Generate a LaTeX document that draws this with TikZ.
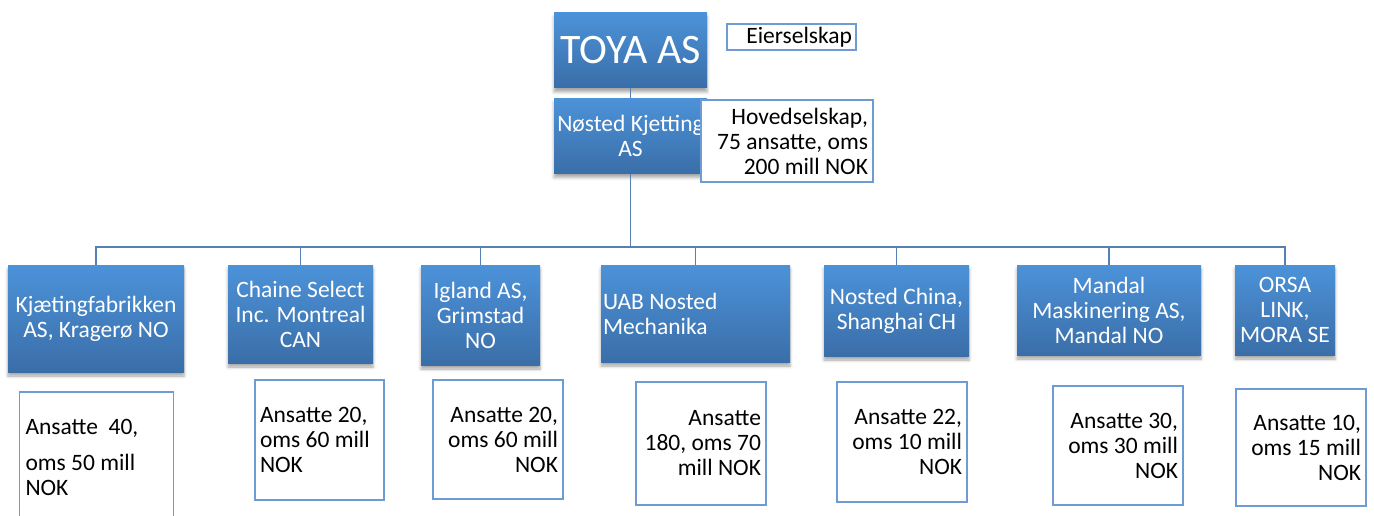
\documentclass[tikz,border=0pt]{standalone}
\usepackage{fontspec}
\setmainfont{Carlito}
\usetikzlibrary{shadows.blur}

\definecolor{boxtop}{RGB}{76,146,217}
\definecolor{boxbot}{RGB}{58,110,168}
\definecolor{linkblue}{RGB}{84,128,182}
\definecolor{infoblue}{RGB}{110,155,212}

\newcommand{\orgfont}{\fontsize{23.5}{25}\selectfont}

\begin{document}
\begin{tikzpicture}[
    x=1pt, y=-1pt,
    company/.style={rectangle, top color=boxtop, bottom color=boxbot, text=white, font=\orgfont, align=flush center, inner sep=2pt,
        blur shadow={shadow xshift=0pt, shadow yshift=-4pt, shadow blur radius=3pt, shadow opacity=35}},
    info/.style={rectangle, draw=infoblue, line width=1.2pt, fill=white, font=\orgfont, inner xsep=5pt, inner ysep=0pt},
    link/.style={draw=linkblue, line width=1.5pt}
]
    \useasboundingbox (0,0) rectangle (1374,516);
    \clip (0,0) rectangle (1374,516);

    % owner and parent
    \node[company, minimum width=153pt, minimum height=75pt, font=\fontsize{42}{46}\selectfont] (toya) at (630.5,50.5) {TOYA AS};
    \node[company, minimum width=153pt, minimum height=75pt] (nosted) at (630.5,136) {Nøsted Kjetting\\AS};
    \node[info, minimum height=26pt, text width=121pt, inner xsep=4pt, align=flush right] (eier) at (791.5,37) {Eierselskap};
    \node[info, minimum height=82pt, text width=162pt, align=flush right] (hoved) at (787,141) {Hovedselskap,\\75 ansatte, oms\\200 mill NOK};

    % subsidiaries
    \node[company, minimum width=176pt, minimum height=107pt] (kjaet) at (96,318.5) {Kjætingfabrikken\\AS, Kragerø NO};
    \node[company, minimum width=145pt, minimum height=98pt] (chaine) at (300.5,314) {Chaine Select\\Inc. Montreal\\CAN};
    \node[company, minimum width=119pt, minimum height=100pt] (igland) at (480.5,315) {Igland AS,\\Grimstad\\NO};
    \node[company, minimum height=97pt, text width=185pt, align=flush left] (uab) at (695.5,313.5) {UAB Nosted\\Mechanika};
    \node[company, minimum width=145pt, minimum height=91pt] (china) at (896.5,310.5) {Nosted China,\\Shanghai CH};
    \node[company, minimum width=184pt, minimum height=90pt] (mandal) at (1109,310) {Mandal\\Maskinering AS,\\Mandal NO};
    \node[company, minimum width=100pt, minimum height=90pt] (orsa) at (1285,310) {ORSA\\LINK,\\MORA SE};

    % key figures
    \node[info, minimum height=130pt, text width=142pt, inner xsep=6pt, align=flush left] (ikjaet) at (96.5,457) {Ansatte\ \ 40,\\[11pt]oms 50 mill\\NOK};
    \node[info, minimum height=120pt, text width=119pt, align=flush left] (ichaine) at (319.5,440) {Ansatte 20,\\oms 60 mill\\NOK};
    \node[info, minimum height=119pt, text width=120pt, align=flush right] (iigland) at (498,439.5) {Ansatte 20,\\oms 60 mill\\NOK};
    \node[info, minimum height=123pt, text width=120pt, align=flush right] (iuab) at (701,443.5) {Ansatte\\180, oms 70\\mill NOK};
    \node[info, minimum height=120pt, text width=120pt, align=flush right] (ichina) at (902,442) {Ansatte 22,\\oms 10 mill\\NOK};
    \node[info, minimum height=119pt, text width=120pt, align=flush right] (imandal) at (1118,445.5) {Ansatte 30,\\oms 30 mill\\NOK};
    \node[info, minimum height=117pt, text width=120pt, align=flush right] (iorsa) at (1301,447.5) {Ansatte 10,\\oms 15 mill\\NOK};

    % tree lines
    \coordinate (bus) at (630.5,247);
    \draw[link] (toya) -- (nosted);
    \draw[link] (nosted) -- (bus);
    \foreach \sub in {kjaet,chaine,igland,uab,china,mandal,orsa}
        \draw[link] (bus) -| (\sub);
\end{tikzpicture}
\end{document}
